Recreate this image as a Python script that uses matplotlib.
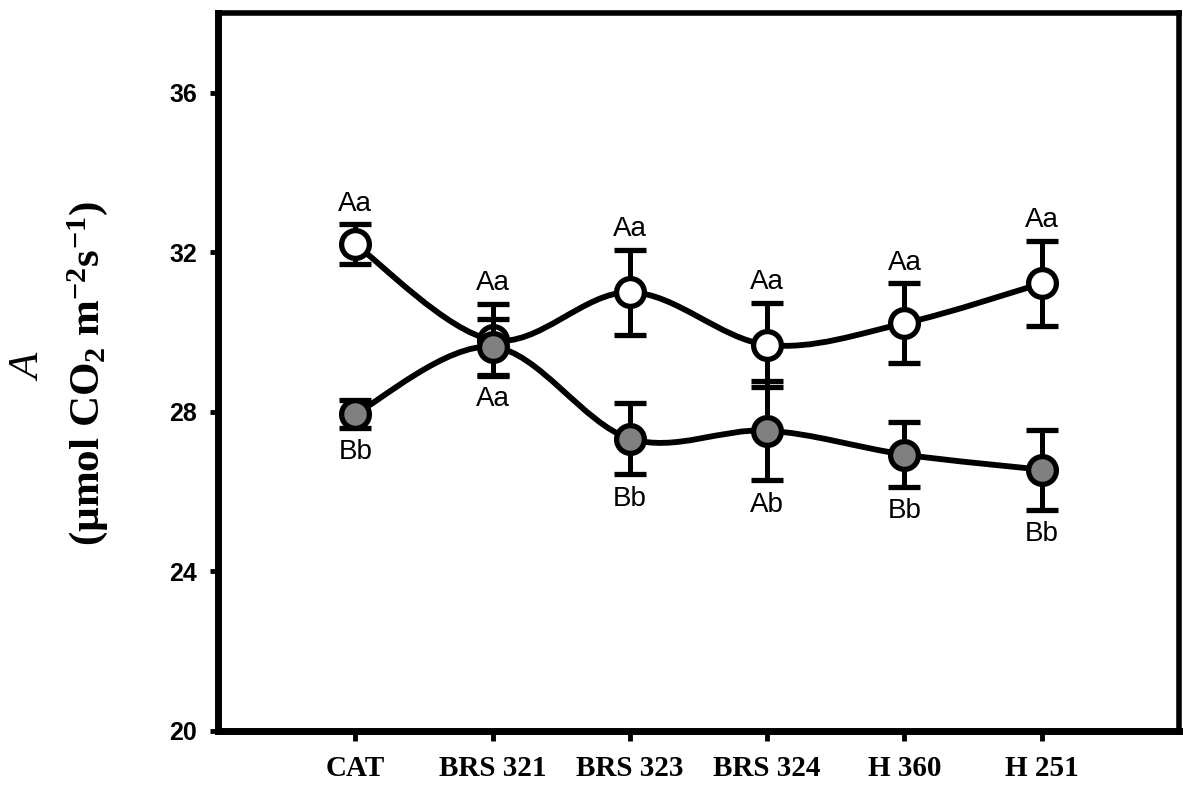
import numpy as np
import matplotlib
matplotlib.use("Agg")
import matplotlib.pyplot as plt
from matplotlib.path import Path
from matplotlib.patches import PathPatch

plt.rcParams['mathtext.fontset'] = 'custom'
plt.rcParams['mathtext.rm'] = 'Liberation Serif:bold'
plt.rcParams['mathtext.default'] = 'rm'

# data
cultivars = ['CAT', 'BRS 321', 'BRS 323', 'BRS 324', 'H 360', 'H 251']
open_mean = [32.2, 29.8, 31.0, 29.68, 30.22, 31.22]
open_err = [0.5, 0.9, 1.07, 1.05, 1.0, 1.07]
open_letters = ['Aa', 'Aa', 'Aa', 'Aa', 'Aa', 'Aa']
filled_mean = [27.95, 29.63, 27.33, 27.53, 26.93, 26.55]
filled_err = [0.35, 0.7, 0.9, 1.25, 0.82, 1.0]
filled_letters = ['Bb', 'Aa', 'Bb', 'Ab', 'Bb', 'Bb']

x = np.arange(1, len(cultivars) + 1)


def smooth_path(xs, ys):
    # Catmull-Rom style cubic bezier through the points
    pts = np.column_stack([xs, ys]).astype(float)
    n = len(pts)
    verts = [pts[0]]
    codes = [Path.MOVETO]
    for i in range(n - 1):
        p0 = pts[max(i - 1, 0)]
        p1 = pts[i]
        p2 = pts[i + 1]
        p3 = pts[min(i + 2, n - 1)]
        c1 = p1 + (p2 - p0) / 6.0
        c2 = p2 - (p3 - p1) / 6.0
        verts += [c1, c2, p2]
        codes += [Path.CURVE4] * 3
    return Path(verts, codes)


fig = plt.figure(figsize=(11.83, 7.87), dpi=100)
ax = fig.add_axes([0.1843, 0.0712, 0.8123, 0.9123])

for mean, err, face, z in [(open_mean, open_err, 'white', 3),
                           (filled_mean, filled_err, '#808080', 5)]:
    ax.add_patch(PathPatch(smooth_path(x, mean), facecolor='none',
                           edgecolor='black', lw=4.2, zorder=z - 1))
    ax.errorbar(x, mean, yerr=err, fmt='none', ecolor='black', elinewidth=3.6,
                capsize=11.5, capthick=3.8, zorder=z)
    ax.plot(x, mean, 'o', ms=20, mfc=face, mec='black', mew=3.8, zorder=z + 0.5)

for xi, m, e, lab in zip(x, open_mean, open_err, open_letters):
    ax.annotate(lab, (xi, m + e), xytext=(0, 10), textcoords='offset points',
                ha='center', va='baseline', fontsize=20, family='Liberation Sans')
for xi, m, e, lab in zip(x, filled_mean, filled_err, filled_letters):
    ax.annotate(lab, (xi, m - e), xytext=(0, -8), textcoords='offset points',
                ha='center', va='top', fontsize=20, family='Liberation Sans')

ax.set_xlim(0, 7)
ax.set_ylim(20, 38)
ax.set_yticks([20, 24, 28, 32, 36])
ax.set_xticks(x)
ax.set_xticklabels(cultivars, fontsize=21, fontweight='bold', family='Liberation Serif')
for t in ax.get_yticklabels():
    t.set_fontsize(18)
    t.set_fontweight('bold')
    t.set_family('Liberation Sans')
ax.tick_params(axis='y', length=6, width=3.5, pad=9)
ax.tick_params(axis='x', length=7, width=3.5, pad=10)

ax.spines['left'].set_linewidth(5)
ax.spines['bottom'].set_linewidth(5)
ax.spines['top'].set_linewidth(4)
ax.spines['right'].set_linewidth(4)

fig.text(30 / 1183, 1 - 368 / 787, 'A', rotation=90, ha='center', va='center',
         fontsize=31, style='italic', family='Liberation Serif')
fig.text(88 / 1183, 1 - 374 / 787, '(µmol CO$_2$ m$^{-2}$s$^{-1}$)', rotation=90,
         ha='center', va='center', fontsize=31, fontweight='bold',
         family='Liberation Serif')

fig.savefig('out.png', dpi=100)
